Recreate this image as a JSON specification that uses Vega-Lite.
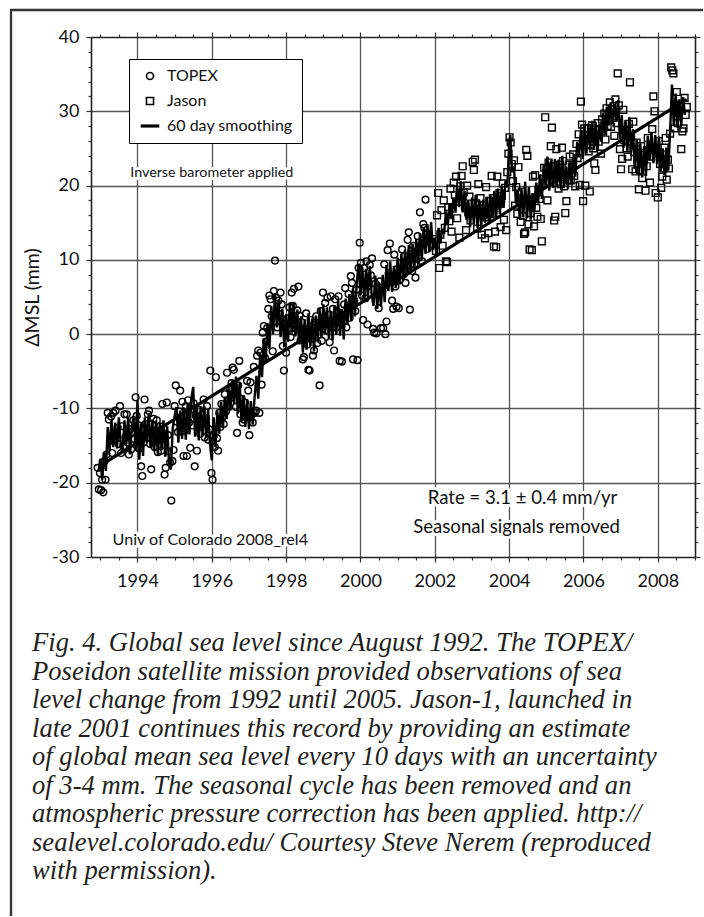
{
"$schema":"https://vega.github.io/schema/vega-lite/v6.json",
"width":692,"height":906,
"autosize":{"type":"none"},
"padding":{"left":11,"top":10,"right":1,"bottom":1},
"background":"white",
"title":{"text":["Fig. 4. Global sea level since August 1992. The TOPEX/","Poseidon satellite mission provided observations of sea","level change from 1992 until 2005. Jason-1, launched in","late 2001 continues this record by providing an estimate","of global mean sea level every 10 days with an uncertainty","of 3-4 mm. The seasonal cycle has been removed and an","atmospheric pressure correction has been applied. http://","sealevel.colorado.edu/  Courtesy Steve Nerem (reproduced","with permission)."],
"orient":"bottom","anchor":"start","frame":"group","dx":21,"offset":-286,"font":"Liberation Serif","fontStyle":"italic","fontWeight":"normal","fontSize":26.6,"lineHeight":28.5,"color":"#231f20","align":"left"},
"datasets":{
"topex":[{"t":1992.93,"y":-18.0},{"t":1992.96,"y":-20.9},{"t":1992.99,"y":-18.7},{"t":1993.02,"y":-21.0},{"t":1993.05,"y":-19.6},{"t":1993.08,"y":-21.3},{"t":1993.11,"y":-17.1},{"t":1993.14,"y":-19.6},{"t":1993.17,"y":-16.2},{"t":1993.20,"y":-10.6},{"t":1993.23,"y":-11.5},{"t":1993.26,"y":-14.4},{"t":1993.29,"y":-11.1},{"t":1993.32,"y":-16.0},{"t":1993.35,"y":-10.6},{"t":1993.38,"y":-14.2},{"t":1993.41,"y":-10.3},{"t":1993.44,"y":-13.5},{"t":1993.47,"y":-12.6},{"t":1993.50,"y":-14.8},
{"t":1993.53,"y":-9.7},{"t":1993.56,"y":-16.0},{"t":1993.59,"y":-12.4},{"t":1993.62,"y":-15.1},{"t":1993.65,"y":-10.8},{"t":1993.68,"y":-13.9},{"t":1993.71,"y":-10.8},{"t":1993.74,"y":-14.6},{"t":1993.77,"y":-16.2},{"t":1993.80,"y":-12.8},{"t":1993.83,"y":-15.5},{"t":1993.86,"y":-13.2},{"t":1993.89,"y":-11.6},{"t":1993.92,"y":-14.1},{"t":1993.95,"y":-8.5},{"t":1993.98,"y":-11.0},{"t":1994.01,"y":-13.7},{"t":1994.04,"y":-15.4},{"t":1994.07,"y":-12.3},{"t":1994.10,"y":-17.8},
{"t":1994.13,"y":-19.1},{"t":1994.16,"y":-14.6},{"t":1994.19,"y":-8.8},{"t":1994.22,"y":-12.1},{"t":1994.25,"y":-13.9},{"t":1994.28,"y":-10.8},{"t":1994.31,"y":-10.3},{"t":1994.34,"y":-14.8},{"t":1994.37,"y":-18.2},{"t":1994.40,"y":-12.9},{"t":1994.43,"y":-11.4},{"t":1994.46,"y":-15.2},{"t":1994.49,"y":-13.1},{"t":1994.52,"y":-11.6},{"t":1994.55,"y":-15.9},{"t":1994.58,"y":-14.2},{"t":1994.61,"y":-12.4},{"t":1994.64,"y":-15.7},{"t":1994.67,"y":-9.4},{"t":1994.70,"y":-12.7},
{"t":1994.73,"y":-18.9},{"t":1994.76,"y":-18.0},{"t":1994.79,"y":-9.2},{"t":1994.82,"y":-13.6},{"t":1994.85,"y":-15.8},{"t":1994.88,"y":-17.3},{"t":1994.91,"y":-22.4},{"t":1994.94,"y":-17.1},{"t":1994.97,"y":-15.6},{"t":1995.00,"y":-9.7},{"t":1995.03,"y":-6.9},{"t":1995.06,"y":-11.8},{"t":1995.09,"y":-13.2},{"t":1995.12,"y":-10.4},{"t":1995.15,"y":-7.6},{"t":1995.18,"y":-12.7},{"t":1995.21,"y":-9.1},{"t":1995.24,"y":-16.4},{"t":1995.27,"y":-13.0},{"t":1995.30,"y":-9.7},
{"t":1995.33,"y":-16.4},{"t":1995.36,"y":-8.9},{"t":1995.39,"y":-11.9},{"t":1995.42,"y":-15.3},{"t":1995.45,"y":-10.1},{"t":1995.48,"y":-12.3},{"t":1995.51,"y":-9.3},{"t":1995.54,"y":-17.8},{"t":1995.57,"y":-11.0},{"t":1995.60,"y":-15.7},{"t":1995.63,"y":-12.5},{"t":1995.66,"y":-10.2},{"t":1995.69,"y":-13.4},{"t":1995.72,"y":-11.5},{"t":1995.75,"y":-12.1},{"t":1995.78,"y":-8.8},{"t":1995.81,"y":-13.9},{"t":1995.84,"y":-11.3},{"t":1995.87,"y":-9.7},{"t":1995.90,"y":-14.2},
{"t":1995.93,"y":-12.8},{"t":1995.96,"y":-4.9},{"t":1995.99,"y":-18.7},{"t":1996.02,"y":-19.6},{"t":1996.05,"y":-13.7},{"t":1996.08,"y":-15.2},{"t":1996.11,"y":-5.8},{"t":1996.14,"y":-14.0},{"t":1996.17,"y":-15.7},{"t":1996.20,"y":-10.6},{"t":1996.23,"y":-12.5},{"t":1996.26,"y":-9.4},{"t":1996.29,"y":-11.2},{"t":1996.32,"y":-12.1},{"t":1996.35,"y":-8.1},{"t":1996.38,"y":-10.4},{"t":1996.41,"y":-5.2},{"t":1996.44,"y":-9.5},{"t":1996.47,"y":-7.3},{"t":1996.50,"y":-8.6},
{"t":1996.53,"y":-6.6},{"t":1996.56,"y":-4.5},{"t":1996.59,"y":-4.8},{"t":1996.62,"y":-7.2},{"t":1996.65,"y":-9.8},{"t":1996.68,"y":-13.3},{"t":1996.71,"y":-6.9},{"t":1996.74,"y":-3.6},{"t":1996.77,"y":-10.8},{"t":1996.80,"y":-8.7},{"t":1996.83,"y":-11.9},{"t":1996.86,"y":-11.5},{"t":1996.89,"y":-9.2},{"t":1996.92,"y":-11.2},{"t":1996.95,"y":-6.3},{"t":1996.98,"y":-7.6},{"t":1997.01,"y":-13.6},{"t":1997.04,"y":-6.5},{"t":1997.07,"y":-10.9},{"t":1997.10,"y":-11.9},
{"t":1997.13,"y":-4.4},{"t":1997.16,"y":-10.6},{"t":1997.19,"y":-10.3},{"t":1997.22,"y":-2.9},{"t":1997.25,"y":-2.2},{"t":1997.28,"y":-10.6},{"t":1997.31,"y":-2.5},{"t":1997.34,"y":-6.8},{"t":1997.37,"y":0.2},{"t":1997.40,"y":1.1},{"t":1997.43,"y":-3.2},{"t":1997.46,"y":-1.0},{"t":1997.49,"y":0.8},{"t":1997.52,"y":3.4},{"t":1997.55,"y":5.2},{"t":1997.58,"y":4.7},{"t":1997.61,"y":2.4},{"t":1997.64,"y":-2.3},{"t":1997.67,"y":5.8},{"t":1997.70,"y":9.9},
{"t":1997.73,"y":4.9},{"t":1997.76,"y":0.9},{"t":1997.79,"y":4.5},{"t":1997.82,"y":2.7},{"t":1997.85,"y":5.6},{"t":1997.88,"y":4.0},{"t":1997.91,"y":-1.6},{"t":1997.94,"y":-4.9},{"t":1997.97,"y":1.3},{"t":1998.00,"y":-2.5},{"t":1998.03,"y":2.1},{"t":1998.06,"y":0.7},{"t":1998.09,"y":3.6},{"t":1998.12,"y":-0.4},{"t":1998.15,"y":5.6},{"t":1998.18,"y":3.8},{"t":1998.21,"y":6.1},{"t":1998.24,"y":1.2},{"t":1998.27,"y":0.7},{"t":1998.30,"y":3.2},
{"t":1998.33,"y":6.4},{"t":1998.36,"y":2.5},{"t":1998.39,"y":-0.8},{"t":1998.42,"y":1.6},{"t":1998.45,"y":-3.4},{"t":1998.48,"y":-3.1},{"t":1998.51,"y":0.6},{"t":1998.54,"y":2.8},{"t":1998.57,"y":-1.4},{"t":1998.60,"y":-4.8},{"t":1998.63,"y":-4.9},{"t":1998.66,"y":1.9},{"t":1998.69,"y":-0.6},{"t":1998.72,"y":-2.9},{"t":1998.75,"y":-2.2},{"t":1998.78,"y":0.8},{"t":1998.81,"y":2.4},{"t":1998.84,"y":-1.2},{"t":1998.87,"y":1.5},{"t":1998.90,"y":-6.9},
{"t":1998.93,"y":3.1},{"t":1998.96,"y":-0.9},{"t":1998.99,"y":5.6},{"t":1999.02,"y":2.0},{"t":1999.05,"y":4.2},{"t":1999.08,"y":0.5},{"t":1999.11,"y":4.9},{"t":1999.14,"y":2.6},{"t":1999.17,"y":-1.1},{"t":1999.20,"y":5.1},{"t":1999.23,"y":1.8},{"t":1999.26,"y":3.4},{"t":1999.29,"y":-2.2},{"t":1999.32,"y":4.7},{"t":1999.35,"y":0.9},{"t":1999.38,"y":3.0},{"t":1999.41,"y":5.1},{"t":1999.44,"y":-3.6},{"t":1999.47,"y":1.5},{"t":1999.50,"y":-3.7},
{"t":1999.53,"y":2.6},{"t":1999.56,"y":4.0},{"t":1999.59,"y":6.2},{"t":1999.62,"y":0.9},{"t":1999.65,"y":3.6},{"t":1999.68,"y":5.4},{"t":1999.71,"y":2.2},{"t":1999.74,"y":7.8},{"t":1999.77,"y":6.9},{"t":1999.80,"y":-3.4},{"t":1999.83,"y":4.5},{"t":1999.86,"y":3.1},{"t":1999.89,"y":6.0},{"t":1999.92,"y":-3.5},{"t":1999.95,"y":8.9},{"t":1999.98,"y":12.3},{"t":2000.01,"y":9.6},{"t":2000.04,"y":5.2},{"t":2000.07,"y":1.9},{"t":2000.10,"y":8.9},
{"t":2000.13,"y":4.8},{"t":2000.16,"y":9.8},{"t":2000.19,"y":1.3},{"t":2000.22,"y":6.5},{"t":2000.25,"y":9.3},{"t":2000.28,"y":7.9},{"t":2000.31,"y":10.2},{"t":2000.34,"y":0.7},{"t":2000.37,"y":0.2},{"t":2000.40,"y":6.8},{"t":2000.43,"y":0.1},{"t":2000.46,"y":5.4},{"t":2000.49,"y":3.5},{"t":2000.52,"y":7.1},{"t":2000.55,"y":0.8},{"t":2000.58,"y":5.9},{"t":2000.61,"y":0.8},{"t":2000.64,"y":9.4},{"t":2000.67,"y":0.0},{"t":2000.70,"y":1.7},
{"t":2000.73,"y":11.3},{"t":2000.76,"y":8.2},{"t":2000.79,"y":12.2},{"t":2000.82,"y":7.0},{"t":2000.85,"y":4.5},{"t":2000.88,"y":3.4},{"t":2000.91,"y":10.7},{"t":2000.94,"y":6.4},{"t":2000.97,"y":3.7},{"t":2001.00,"y":8.8},{"t":2001.03,"y":3.5},{"t":2001.06,"y":7.3},{"t":2001.09,"y":9.6},{"t":2001.12,"y":11.4},{"t":2001.15,"y":8.0},{"t":2001.18,"y":10.5},{"t":2001.21,"y":6.9},{"t":2001.24,"y":9.2},{"t":2001.27,"y":12.7},{"t":2001.30,"y":13.7},
{"t":2001.33,"y":3.3},{"t":2001.36,"y":10.8},{"t":2001.39,"y":8.5},{"t":2001.42,"y":11.9},{"t":2001.45,"y":9.4},{"t":2001.48,"y":7.6},{"t":2001.51,"y":11.1},{"t":2001.54,"y":13.2},{"t":2001.57,"y":10.3},{"t":2001.60,"y":16.4},{"t":2001.63,"y":12.0},{"t":2001.66,"y":9.8},{"t":2001.69,"y":14.8},{"t":2001.72,"y":14.3},{"t":2001.75,"y":18.1},{"t":2001.78,"y":13.6},{"t":2001.81,"y":11.5},{"t":2001.84,"y":12.9}],
"jason":[{"t":2002.00,"y":12.8},{"t":2002.03,"y":11.2},{"t":2002.06,"y":16.0},{"t":2002.09,"y":19.0},{"t":2002.12,"y":8.9},{"t":2002.15,"y":13.4},{"t":2002.18,"y":16.7},{"t":2002.21,"y":11.9},{"t":2002.24,"y":18.0},{"t":2002.27,"y":14.3},{"t":2002.30,"y":9.8},{"t":2002.33,"y":9.7},{"t":2002.36,"y":17.1},{"t":2002.39,"y":15.2},{"t":2002.42,"y":19.6},{"t":2002.45,"y":13.8},{"t":2002.48,"y":16.9},{"t":2002.51,"y":20.4},{"t":2002.54,"y":18.7},{"t":2002.57,"y":21.2},
{"t":2002.60,"y":15.6},{"t":2002.63,"y":17.8},{"t":2002.66,"y":13.0},{"t":2002.69,"y":19.9},{"t":2002.72,"y":21.3},{"t":2002.75,"y":22.6},{"t":2002.78,"y":19.1},{"t":2002.81,"y":17.2},{"t":2002.84,"y":14.0},{"t":2002.87,"y":20.0},{"t":2002.90,"y":16.4},{"t":2002.93,"y":18.5},{"t":2002.96,"y":15.3},{"t":2002.99,"y":16.6},{"t":2003.02,"y":23.2},{"t":2003.05,"y":22.1},{"t":2003.08,"y":23.5},{"t":2003.11,"y":17.6},{"t":2003.14,"y":14.2},{"t":2003.17,"y":20.2},
{"t":2003.20,"y":16.9},{"t":2003.23,"y":18.3},{"t":2003.26,"y":13.4},{"t":2003.29,"y":16.1},{"t":2003.32,"y":17.4},{"t":2003.35,"y":12.9},{"t":2003.38,"y":19.8},{"t":2003.41,"y":15.7},{"t":2003.44,"y":13.6},{"t":2003.47,"y":17.9},{"t":2003.50,"y":16.2},{"t":2003.53,"y":21.3},{"t":2003.56,"y":18.3},{"t":2003.59,"y":11.8},{"t":2003.62,"y":13.8},{"t":2003.65,"y":11.7},{"t":2003.68,"y":21.2},{"t":2003.71,"y":17.5},{"t":2003.74,"y":19.0},{"t":2003.77,"y":14.4},
{"t":2003.80,"y":18.6},{"t":2003.83,"y":20.3},{"t":2003.86,"y":15.4},{"t":2003.89,"y":19.7},{"t":2003.92,"y":14.0},{"t":2003.95,"y":21.8},{"t":2003.98,"y":24.3},{"t":2004.01,"y":26.5},{"t":2004.04,"y":25.8},{"t":2004.07,"y":22.9},{"t":2004.10,"y":20.6},{"t":2004.13,"y":23.4},{"t":2004.16,"y":17.3},{"t":2004.19,"y":19.8},{"t":2004.22,"y":16.2},{"t":2004.25,"y":22.5},{"t":2004.28,"y":18.0},{"t":2004.31,"y":15.1},{"t":2004.34,"y":19.2},{"t":2004.37,"y":15.9},
{"t":2004.40,"y":13.5},{"t":2004.43,"y":13.7},{"t":2004.46,"y":24.8},{"t":2004.49,"y":24.0},{"t":2004.52,"y":14.8},{"t":2004.55,"y":11.4},{"t":2004.58,"y":16.3},{"t":2004.61,"y":11.3},{"t":2004.64,"y":21.2},{"t":2004.67,"y":14.5},{"t":2004.70,"y":21.4},{"t":2004.73,"y":17.0},{"t":2004.76,"y":15.8},{"t":2004.79,"y":19.4},{"t":2004.82,"y":18.2},{"t":2004.85,"y":15.5},{"t":2004.88,"y":12.5},{"t":2004.91,"y":20.9},{"t":2004.94,"y":22.4},{"t":2004.97,"y":29.2},
{"t":2005.00,"y":21.7},{"t":2005.03,"y":18.0},{"t":2005.06,"y":23.1},{"t":2005.09,"y":20.5},{"t":2005.12,"y":25.3},{"t":2005.15,"y":27.8},{"t":2005.18,"y":22.6},{"t":2005.21,"y":15.3},{"t":2005.24,"y":15.8},{"t":2005.27,"y":24.9},{"t":2005.30,"y":21.4},{"t":2005.33,"y":19.6},{"t":2005.36,"y":22.8},{"t":2005.39,"y":20.2},{"t":2005.42,"y":25.1},{"t":2005.45,"y":23.3},{"t":2005.48,"y":19.9},{"t":2005.51,"y":16.3},{"t":2005.54,"y":17.9},{"t":2005.57,"y":21.6},
{"t":2005.60,"y":22.8},{"t":2005.63,"y":23.9},{"t":2005.66,"y":20.7},{"t":2005.69,"y":22.5},{"t":2005.72,"y":24.2},{"t":2005.75,"y":21.3},{"t":2005.78,"y":19.9},{"t":2005.81,"y":25.6},{"t":2005.84,"y":23.7},{"t":2005.87,"y":26.9},{"t":2005.90,"y":20.1},{"t":2005.93,"y":31.3},{"t":2005.96,"y":28.2},{"t":2005.99,"y":17.9},{"t":2006.02,"y":27.7},{"t":2006.05,"y":20.0},{"t":2006.08,"y":25.4},{"t":2006.11,"y":27.7},{"t":2006.14,"y":24.6},{"t":2006.17,"y":19.2},
{"t":2006.20,"y":26.3},{"t":2006.23,"y":28.1},{"t":2006.26,"y":25.0},{"t":2006.29,"y":23.0},{"t":2006.32,"y":22.1},{"t":2006.35,"y":26.8},{"t":2006.38,"y":28.4},{"t":2006.41,"y":25.9},{"t":2006.44,"y":27.6},{"t":2006.47,"y":24.3},{"t":2006.50,"y":28.9},{"t":2006.53,"y":27.3},{"t":2006.56,"y":29.7},{"t":2006.59,"y":26.2},{"t":2006.62,"y":30.4},{"t":2006.65,"y":28.0},{"t":2006.68,"y":29.6},{"t":2006.71,"y":31.2},{"t":2006.74,"y":27.9},{"t":2006.77,"y":30.3},
{"t":2006.80,"y":29.1},{"t":2006.83,"y":26.7},{"t":2006.86,"y":31.6},{"t":2006.89,"y":28.4},{"t":2006.92,"y":35.1},{"t":2006.95,"y":30.8},{"t":2006.98,"y":24.9},{"t":2007.01,"y":22.2},{"t":2007.04,"y":23.6},{"t":2007.07,"y":30.2},{"t":2007.10,"y":26.1},{"t":2007.13,"y":27.5},{"t":2007.16,"y":25.0},{"t":2007.19,"y":23.9},{"t":2007.22,"y":28.3},{"t":2007.25,"y":33.9},{"t":2007.28,"y":26.6},{"t":2007.31,"y":22.2},{"t":2007.34,"y":28.6},{"t":2007.37,"y":24.5},
{"t":2007.40,"y":21.9},{"t":2007.43,"y":25.8},{"t":2007.46,"y":23.0},{"t":2007.49,"y":19.5},{"t":2007.52,"y":22.1},{"t":2007.55,"y":25.3},{"t":2007.58,"y":21.0},{"t":2007.61,"y":23.4},{"t":2007.64,"y":24.1},{"t":2007.67,"y":19.3},{"t":2007.70,"y":22.6},{"t":2007.73,"y":26.4},{"t":2007.76,"y":24.8},{"t":2007.79,"y":20.4},{"t":2007.82,"y":23.9},{"t":2007.85,"y":27.6},{"t":2007.88,"y":32.0},{"t":2007.91,"y":30.0},{"t":2007.94,"y":19.0},{"t":2007.97,"y":24.4},
{"t":2008.00,"y":18.4},{"t":2008.03,"y":26.0},{"t":2008.06,"y":22.9},{"t":2008.09,"y":19.7},{"t":2008.12,"y":21.2},{"t":2008.15,"y":22.3},{"t":2008.18,"y":25.1},{"t":2008.21,"y":26.4},{"t":2008.24,"y":20.8},{"t":2008.27,"y":23.5},{"t":2008.30,"y":22.3},{"t":2008.33,"y":27.0},{"t":2008.36,"y":35.9},{"t":2008.39,"y":35.5},{"t":2008.42,"y":35.1},{"t":2008.45,"y":27.7},{"t":2008.48,"y":30.9},{"t":2008.51,"y":32.6},{"t":2008.54,"y":28.4},{"t":2008.57,"y":29.9},
{"t":2008.60,"y":30.8},{"t":2008.63,"y":24.9},{"t":2008.66,"y":27.3},{"t":2008.69,"y":27.7},{"t":2008.72,"y":31.8},{"t":2008.75,"y":29.5},{"t":2008.78,"y":30.6}],
"smooth":[{"t":1992.95,"y":-18.5},{"t":1993.00,"y":-16.8},{"t":1993.05,"y":-19.6},{"t":1993.10,"y":-15.9},{"t":1993.15,"y":-18.4},{"t":1993.20,"y":-12.5},{"t":1993.25,"y":-15.8},{"t":1993.30,"y":-11.6},{"t":1993.35,"y":-15.2},{"t":1993.40,"y":-11.9},{"t":1993.45,"y":-15.4},{"t":1993.50,"y":-11.2},{"t":1993.55,"y":-14.9},{"t":1993.60,"y":-16.0},{"t":1993.65,"y":-11.6},{"t":1993.70,"y":-14.8},{"t":1993.75,"y":-11.2},{"t":1993.80,"y":-16.2},{"t":1993.85,"y":-12.3},{"t":1993.90,"y":-11.0},
{"t":1993.95,"y":-15.7},{"t":1994.00,"y":-8.9},{"t":1994.05,"y":-16.9},{"t":1994.10,"y":-12.0},{"t":1994.15,"y":-16.4},{"t":1994.20,"y":-11.2},{"t":1994.25,"y":-14.6},{"t":1994.30,"y":-10.8},{"t":1994.35,"y":-15.3},{"t":1994.40,"y":-11.5},{"t":1994.45,"y":-15.8},{"t":1994.50,"y":-11.7},{"t":1994.55,"y":-16.3},{"t":1994.60,"y":-12.0},{"t":1994.65,"y":-15.6},{"t":1994.70,"y":-11.6},{"t":1994.75,"y":-16.5},{"t":1994.80,"y":-12.4},{"t":1994.85,"y":-17.4},{"t":1994.90,"y":-18.2},
{"t":1994.95,"y":-12.6},{"t":1995.00,"y":-11.0},{"t":1995.05,"y":-9.8},{"t":1995.10,"y":-14.6},{"t":1995.15,"y":-10.3},{"t":1995.20,"y":-14.1},{"t":1995.25,"y":-9.9},{"t":1995.30,"y":-14.2},{"t":1995.35,"y":-9.4},{"t":1995.40,"y":-13.5},{"t":1995.45,"y":-8.6},{"t":1995.50,"y":-7.1},{"t":1995.55,"y":-13.8},{"t":1995.60,"y":-10.0},{"t":1995.65,"y":-14.3},{"t":1995.70,"y":-9.8},{"t":1995.75,"y":-13.6},{"t":1995.80,"y":-9.7},{"t":1995.85,"y":-14.0},{"t":1995.90,"y":-10.1},
{"t":1995.95,"y":-14.7},{"t":1996.00,"y":-17.0},{"t":1996.05,"y":-11.2},{"t":1996.10,"y":-15.2},{"t":1996.15,"y":-10.4},{"t":1996.20,"y":-13.4},{"t":1996.25,"y":-9.1},{"t":1996.30,"y":-12.6},{"t":1996.35,"y":-8.4},{"t":1996.40,"y":-11.4},{"t":1996.45,"y":-7.1},{"t":1996.50,"y":-10.3},{"t":1996.55,"y":-6.2},{"t":1996.60,"y":-9.4},{"t":1996.65,"y":-5.7},{"t":1996.70,"y":-10.7},{"t":1996.75,"y":-6.6},{"t":1996.80,"y":-11.8},{"t":1996.85,"y":-8.2},{"t":1996.90,"y":-12.5},
{"t":1996.95,"y":-8.8},{"t":1997.00,"y":-12.8},{"t":1997.05,"y":-9.0},{"t":1997.10,"y":-12.2},{"t":1997.15,"y":-8.6},{"t":1997.20,"y":-5.6},{"t":1997.25,"y":-8.7},{"t":1997.30,"y":-2.7},{"t":1997.35,"y":-5.8},{"t":1997.40,"y":-0.6},{"t":1997.45,"y":-3.8},{"t":1997.50,"y":1.5},{"t":1997.55,"y":-2.0},{"t":1997.60,"y":3.8},{"t":1997.65,"y":0.0},{"t":1997.70,"y":5.5},{"t":1997.75,"y":0.9},{"t":1997.80,"y":4.7},{"t":1997.85,"y":-0.4},{"t":1997.90,"y":3.4},
{"t":1997.95,"y":-1.8},{"t":1998.00,"y":2.7},{"t":1998.05,"y":-1.0},{"t":1998.10,"y":4.3},{"t":1998.15,"y":0.2},{"t":1998.20,"y":4.2},{"t":1998.25,"y":-0.3},{"t":1998.30,"y":3.3},{"t":1998.35,"y":-1.4},{"t":1998.40,"y":2.4},{"t":1998.45,"y":-2.5},{"t":1998.50,"y":2.0},{"t":1998.55,"y":-2.1},{"t":1998.60,"y":2.8},{"t":1998.65,"y":-1.6},{"t":1998.70,"y":2.1},{"t":1998.75,"y":-2.3},{"t":1998.80,"y":2.5},{"t":1998.85,"y":-1.1},{"t":1998.90,"y":3.5},
{"t":1998.95,"y":-0.5},{"t":1999.00,"y":4.0},{"t":1999.05,"y":0.1},{"t":1999.10,"y":3.6},{"t":1999.15,"y":-0.6},{"t":1999.20,"y":3.1},{"t":1999.25,"y":-0.8},{"t":1999.30,"y":3.9},{"t":1999.35,"y":-0.1},{"t":1999.40,"y":4.6},{"t":1999.45,"y":-0.2},{"t":1999.50,"y":3.4},{"t":1999.55,"y":-0.7},{"t":1999.60,"y":4.8},{"t":1999.65,"y":1.2},{"t":1999.70,"y":5.4},{"t":1999.75,"y":1.8},{"t":1999.80,"y":6.3},{"t":1999.85,"y":2.4},{"t":1999.90,"y":6.9},
{"t":1999.95,"y":9.5},{"t":2000.00,"y":5.2},{"t":2000.05,"y":9.0},{"t":2000.10,"y":4.7},{"t":2000.15,"y":8.8},{"t":2000.20,"y":4.9},{"t":2000.25,"y":9.2},{"t":2000.30,"y":5.4},{"t":2000.35,"y":3.8},{"t":2000.40,"y":7.9},{"t":2000.45,"y":3.4},{"t":2000.50,"y":7.0},{"t":2000.55,"y":3.7},{"t":2000.60,"y":8.0},{"t":2000.65,"y":4.3},{"t":2000.70,"y":9.3},{"t":2000.75,"y":5.8},{"t":2000.80,"y":9.8},{"t":2000.85,"y":5.7},{"t":2000.90,"y":9.2},
{"t":2000.95,"y":6.2},{"t":2001.00,"y":10.3},{"t":2001.05,"y":6.7},{"t":2001.10,"y":10.8},{"t":2001.15,"y":7.3},{"t":2001.20,"y":11.4},{"t":2001.25,"y":7.8},{"t":2001.30,"y":12.0},{"t":2001.35,"y":8.3},{"t":2001.40,"y":12.2},{"t":2001.45,"y":8.9},{"t":2001.50,"y":12.8},{"t":2001.55,"y":9.4},{"t":2001.60,"y":13.6},{"t":2001.65,"y":10.1},{"t":2001.70,"y":14.4},{"t":2001.75,"y":10.8},{"t":2001.80,"y":14.8},{"t":2001.85,"y":11.1},{"t":2001.90,"y":15.1},
{"t":2001.95,"y":11.3},{"t":2002.00,"y":13.0},{"t":2002.05,"y":10.6},{"t":2002.10,"y":14.3},{"t":2002.15,"y":12.2},{"t":2002.20,"y":14.2},{"t":2002.25,"y":13.5},{"t":2002.30,"y":16.5},{"t":2002.35,"y":14.7},{"t":2002.40,"y":17.6},{"t":2002.45,"y":15.5},{"t":2002.50,"y":18.4},{"t":2002.55,"y":16.6},{"t":2002.60,"y":20.0},{"t":2002.65,"y":17.1},{"t":2002.70,"y":20.6},{"t":2002.75,"y":16.4},{"t":2002.80,"y":19.3},{"t":2002.85,"y":15.4},{"t":2002.90,"y":18.0},
{"t":2002.95,"y":14.4},{"t":2003.00,"y":18.4},{"t":2003.05,"y":14.8},{"t":2003.10,"y":18.8},{"t":2003.15,"y":14.3},{"t":2003.20,"y":17.8},{"t":2003.25,"y":14.6},{"t":2003.30,"y":18.1},{"t":2003.35,"y":15.0},{"t":2003.40,"y":18.5},{"t":2003.45,"y":15.2},{"t":2003.50,"y":18.7},{"t":2003.55,"y":15.6},{"t":2003.60,"y":19.3},{"t":2003.65,"y":15.7},{"t":2003.70,"y":19.6},{"t":2003.75,"y":16.2},{"t":2003.80,"y":19.8},{"t":2003.85,"y":17.0},{"t":2003.90,"y":20.6},
{"t":2003.95,"y":19.8},{"t":2004.00,"y":25.6},{"t":2004.03,"y":26.8},{"t":2004.08,"y":21.8},{"t":2004.13,"y":22.6},{"t":2004.18,"y":17.6},{"t":2004.23,"y":19.4},{"t":2004.28,"y":15.9},{"t":2004.33,"y":19.6},{"t":2004.38,"y":15.7},{"t":2004.43,"y":20.5},{"t":2004.48,"y":15.6},{"t":2004.53,"y":19.8},{"t":2004.58,"y":15.4},{"t":2004.63,"y":19.0},{"t":2004.68,"y":16.6},{"t":2004.73,"y":20.4},{"t":2004.78,"y":17.6},{"t":2004.83,"y":21.5},{"t":2004.88,"y":18.2},
{"t":2004.93,"y":22.9},{"t":2004.98,"y":19.8},{"t":2005.03,"y":23.9},{"t":2005.08,"y":19.3},{"t":2005.13,"y":23.4},{"t":2005.18,"y":19.7},{"t":2005.23,"y":23.6},{"t":2005.28,"y":19.9},{"t":2005.33,"y":23.5},{"t":2005.38,"y":20.0},{"t":2005.43,"y":24.0},{"t":2005.48,"y":19.8},{"t":2005.53,"y":22.6},{"t":2005.58,"y":19.6},{"t":2005.63,"y":23.2},{"t":2005.68,"y":20.1},{"t":2005.73,"y":23.8},{"t":2005.78,"y":21.2},{"t":2005.83,"y":25.9},{"t":2005.88,"y":23.8},
{"t":2005.93,"y":27.4},{"t":2005.98,"y":23.6},{"t":2006.03,"y":27.6},{"t":2006.08,"y":24.3},{"t":2006.13,"y":28.3},{"t":2006.18,"y":24.9},{"t":2006.23,"y":28.7},{"t":2006.28,"y":24.8},{"t":2006.33,"y":28.5},{"t":2006.38,"y":24.7},{"t":2006.43,"y":28.3},{"t":2006.48,"y":25.9},{"t":2006.53,"y":29.8},{"t":2006.58,"y":26.8},{"t":2006.63,"y":30.6},{"t":2006.68,"y":28.1},{"t":2006.73,"y":31.2},{"t":2006.78,"y":28.3},{"t":2006.83,"y":31.0},{"t":2006.88,"y":28.6},
{"t":2006.93,"y":31.5},{"t":2006.98,"y":26.2},{"t":2007.03,"y":29.5},{"t":2007.08,"y":25.1},{"t":2007.13,"y":28.8},{"t":2007.18,"y":24.6},{"t":2007.23,"y":29.2},{"t":2007.28,"y":24.5},{"t":2007.33,"y":27.6},{"t":2007.38,"y":22.3},{"t":2007.43,"y":26.2},{"t":2007.48,"y":21.5},{"t":2007.53,"y":25.6},{"t":2007.58,"y":21.1},{"t":2007.63,"y":25.3},{"t":2007.68,"y":21.3},{"t":2007.73,"y":26.7},{"t":2007.78,"y":23.4},{"t":2007.83,"y":27.2},{"t":2007.88,"y":23.0},
{"t":2007.93,"y":26.8},{"t":2007.98,"y":22.9},{"t":2008.03,"y":26.6},{"t":2008.08,"y":21.9},{"t":2008.13,"y":25.0},{"t":2008.18,"y":21.4},{"t":2008.23,"y":25.1},{"t":2008.28,"y":22.0},{"t":2008.33,"y":27.2},{"t":2008.38,"y":33.6},{"t":2008.43,"y":28.0},{"t":2008.48,"y":32.4},{"t":2008.53,"y":27.8},{"t":2008.58,"y":31.6},{"t":2008.63,"y":28.1},{"t":2008.68,"y":31.9},{"t":2008.73,"y":29.5}],
"trend":[{"t":1993.1,"y":-17.4},{"t":2008.78,"y":31.6}],
"notes":[{"t":1996.0,"y":21.7,"txt":"Inverse barometer applied","kind":"a"},{"t":1995.96,"y":-27.7,"txt":"Univ of Colorado 2008_rel4","kind":"b"},{"t":2004.36,"y":-22.0,"txt":"Rate = 3.1 ± 0.4 mm/yr","kind":"c"},{"t":2004.2,"y":-25.9,"txt":"Seasonal signals removed","kind":"c"}]
},
"layer":[
{"data":{"name":"topex"},
 "mark":{"type":"point","filled":false,"color":"black","strokeWidth":1.4,"size":46,"opacity":1},
 "encoding":{
  "x":{"field":"t","type":"quantitative","scale":{"domain":[1992.75,2009],"range":[80,684],"nice":false,"zero":false},
   "axis":{"orient":"top","offset":-27,"title":null,"labels":false,"values":[1993,1993.5,1994,1994.5,1995,1995.5,1996,1996.5,1997,1997.5,1998,1998.5,1999,1999.5,2000,2000.5,2001,2001.5,2002,2002.5,2003,2003.5,2004,2004.5,2005,2005.5,2006,2006.5,2007,2007.5,2008,2008.5,2009],
    "grid":true,"gridOpacity":{"condition":{"test":"datum.value % 2 === 0 && datum.value < 2009","value":1},"value":0},
    "tickSize":{"condition":{"test":"datum.value % 2 === 0","value":5},"value":3}}},
  "y":{"field":"y","type":"quantitative","scale":{"domain":[-30,40],"range":[547,27],"nice":false,"zero":false},
   "axis":{"orient":"left","offset":-80,"title":"ΔMSL (mm)","values":[-30,-28,-26,-24,-22,-20,-18,-16,-14,-12,-10,-8,-6,-4,-2,0,2,4,6,8,10,12,14,16,18,20,22,24,26,28,30,32,34,36,38,40],
    "labelExpr":"datum.value % 10 === 0 ? '' + datum.value : ''",
    "grid":true,"gridOpacity":{"condition":{"test":"datum.value % 10 === 0 && datum.value > -30 && datum.value < 40","value":1},"value":0},
    "tickSize":{"condition":{"test":"datum.value % 10 === 0","value":5},"value":3},
    "labelPadding":7,"titlePadding":9}},
  "shape":{"datum":"TOPEX","type":"nominal","scale":{"domain":["TOPEX","Jason","60 day smoothing"],"range":["circle","square","M-2.4,-0.22H2.4V0.22H-2.4Z"]},
   "legend":{"title":null,"orient":"none","legendX":118,"legendY":49,"padding":9,"fillColor":"white","strokeColor":"black","labelFont":"Lato","labelFontSize":16,"labelColor":"#111","symbolSize":50,"symbolStrokeWidth":1.6,"symbolStrokeColor":"black","symbolFillColor":"transparent","symbolOffset":4,"labelOffset":9,"rowPadding":9,
    "encode":{"legend":{"update":{"strokeWidth":{"value":2}}}}}}
 }},
{"data":{"name":"jason"},
 "mark":{"type":"point","filled":false,"color":"black","strokeWidth":1.4,"size":46,"opacity":1},
 "encoding":{
  "x":{"field":"t","type":"quantitative",
   "axis":{"orient":"bottom","offset":-359,"title":null,"grid":false,"values":[1993,1993.5,1994,1994.5,1995,1995.5,1996,1996.5,1997,1997.5,1998,1998.5,1999,1999.5,2000,2000.5,2001,2001.5,2002,2002.5,2003,2003.5,2004,2004.5,2005,2005.5,2006,2006.5,2007,2007.5,2008,2008.5,2009],
    "labelExpr":"datum.value % 2 === 0 && datum.value < 2009 ? '' + datum.value : ''",
    "tickSize":{"condition":{"test":"datum.value % 2 === 0","value":5},"value":3},
    "labelPadding":10}},
  "y":{"field":"y","type":"quantitative",
   "axis":{"orient":"right","offset":-8,"title":null,"labels":false,"grid":false,"values":[-30,-28,-26,-24,-22,-20,-18,-16,-14,-12,-10,-8,-6,-4,-2,0,2,4,6,8,10,12,14,16,18,20,22,24,26,28,30,32,34,36,38,40],
    "tickSize":{"condition":{"test":"datum.value % 10 === 0","value":5},"value":3}}},
  "shape":{"datum":"Jason","type":"nominal"}
 }},
{"data":{"name":"smooth"},
 "mark":{"type":"line","color":"black","strokeWidth":2.4,"strokeJoin":"miter"},
 "encoding":{"x":{"field":"t","type":"quantitative","axis":null},"y":{"field":"y","type":"quantitative","axis":null}}},
{"data":{"name":"trend"},
 "mark":{"type":"line","color":"black","strokeWidth":3.2},
 "encoding":{"x":{"field":"t","type":"quantitative","axis":null},"y":{"field":"y","type":"quantitative","axis":null}}},
{"data":{"name":"notes"},
 "encoding":{"x":{"field":"t","type":"quantitative","axis":null},"y":{"field":"y","type":"quantitative","axis":null},"text":{"field":"txt"}},
 "layer":[
  {"transform":[{"filter":"datum.kind === 'a'"}],"mark":{"type":"text","font":"Lato","fontSize":14.3,"color":"white","stroke":"white","strokeWidth":6,"strokeJoin":"round","align":"center","baseline":"middle"}},
  {"transform":[{"filter":"datum.kind === 'a'"}],"mark":{"type":"text","font":"Lato","fontSize":14.3,"color":"#111","align":"center","baseline":"middle"}},
  {"transform":[{"filter":"datum.kind === 'b'"}],"mark":{"type":"text","font":"Lato","fontSize":16.1,"color":"white","stroke":"white","strokeWidth":6,"strokeJoin":"round","align":"center","baseline":"middle"}},
  {"transform":[{"filter":"datum.kind === 'b'"}],"mark":{"type":"text","font":"Lato","fontSize":16.1,"color":"#111","align":"center","baseline":"middle"}},
  {"transform":[{"filter":"datum.kind === 'c'"}],"mark":{"type":"text","font":"Lato","fontSize":18.6,"color":"white","stroke":"white","strokeWidth":6,"strokeJoin":"round","align":"center","baseline":"middle"}},
  {"transform":[{"filter":"datum.kind === 'c'"}],"mark":{"type":"text","font":"Lato","fontSize":18.6,"color":"#111","align":"center","baseline":"middle"}}
 ]}
],
"resolve":{"axis":{"x":"independent","y":"independent"}},
"config":{"view":{"stroke":"#333","strokeWidth":2.3,"strokeDash":[692,1598,906,20]},
 "axis":{"domainColor":"#222","domainWidth":1.6,"tickColor":"#333","tickWidth":1.2,"gridColor":"#555","gridWidth":1.3,"labelFont":"Lato","labelFontSize":18,"labelColor":"#111","titleFont":"Lato","titleFontWeight":"normal","titleFontSize":19.5,"titleColor":"#111","labelOverlap":false,"labelFlush":false,"labelBound":false}}
}
